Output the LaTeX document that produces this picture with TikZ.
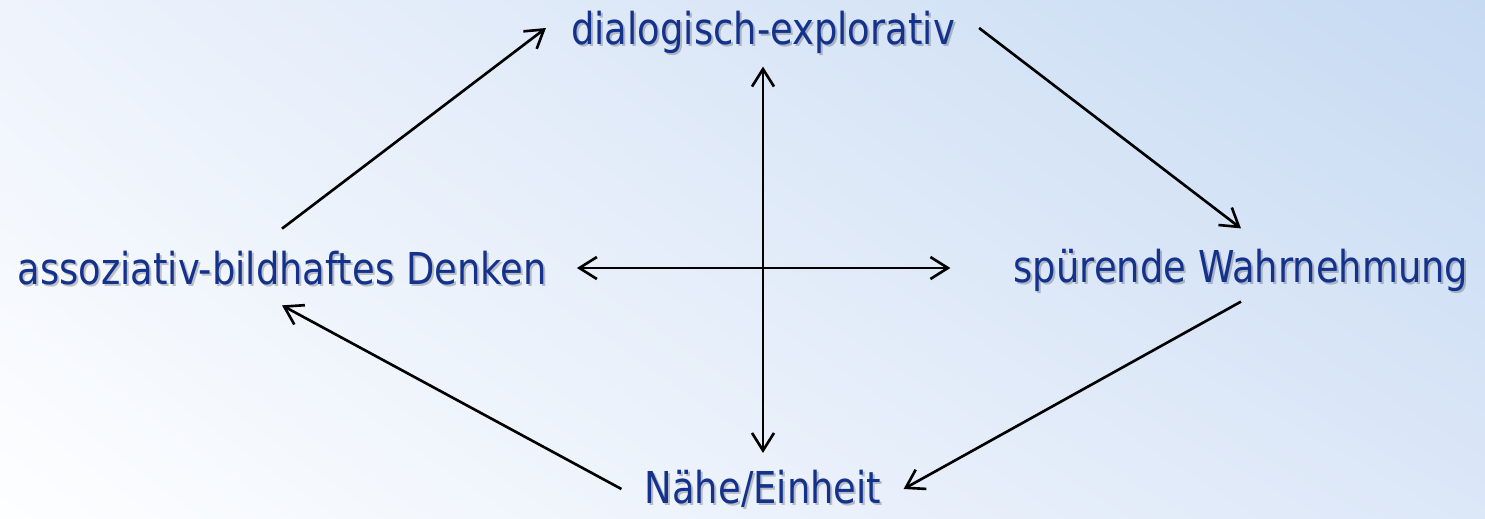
\documentclass[tikz,border=0pt]{standalone}
\usepackage{fontspec}
\setmainfont{DejaVu Sans}[FakeStretch=0.84]
\usetikzlibrary{arrows.meta,shadings}
\definecolor{txtblue}{RGB}{20,50,140}
\definecolor{bgul}{HTML}{EEF3FC}
\definecolor{bgur}{HTML}{C6DAF2}
\definecolor{bgll}{HTML}{FDFEFF}
\definecolor{bglr}{HTML}{DCE7F8}
\begin{document}
\begin{tikzpicture}[x=0.02cm,y=-0.02cm,
    lbl/.style={inner sep=0pt,text=txtblue,font=\fontsize{25}{30}\selectfont},
    shd/.style={lbl,text=black,text opacity=0.22},
    tip/.tip={Straight Barb[length=3.5mm,width=4.4mm]},
    arr/.style={line width=1.5pt,-tip},
    dbl/.style={line width=1.5pt,tip-tip}]

    % Background
    \shade[upper left=bgul,upper right=bgur,lower left=bgll,lower right=bglr]
        (0,0) rectangle (1485,518);

    % Text shadows
    \node[shd] (dialogS) at (765,34) {dialogisch-explorativ};
    \node[shd] (assocS) at (284,270) {assoziativ-bildhaftes Denken};
    \node[shd] (spuerS) at (1243,272) {spürende Wahrnehmung};
    \node[shd] (naeheS) at (765,491) {Nähe/Einheit};

    % Labels
    \node[lbl] (dialog) at (763,32) {dialogisch-explorativ};
    \node[lbl] (assoc) at (282,268) {assoziativ-bildhaftes Denken};
    \node[lbl] (spuer) at (1241,270) {spürende Wahrnehmung};
    \node[lbl] (naehe) at (763,489) {Nähe/Einheit};

    % Cycle arrows
    \draw[arr] ([yshift=0.44cm]assoc.north) -- ([xshift=-0.5cm,yshift=0.08cm]dialog.west);
    \draw[arr] ([xshift=0.48cm,yshift=0.08cm]dialog.east) -- ([yshift=0.4cm]spuer.north);
    \draw[arr] ([yshift=-0.2cm]spuer.south) -- ([xshift=0.44cm]naehe.east);
    \draw[arr] ([xshift=-0.46cm]naehe.west) -- ([yshift=-0.4cm]assoc.south);

    % Cross arrows
    \draw[dbl] ([yshift=-0.26cm]dialog.south) -- ([yshift=0.34cm]naehe.north);
    \draw[dbl] ([xshift=0.6cm]assoc.east) -- ([xshift=-1.26cm]spuer.west |- assoc.east);
\end{tikzpicture}
\end{document}
